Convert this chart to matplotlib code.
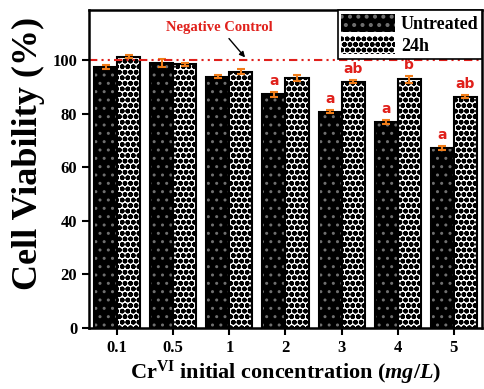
import numpy as np
import matplotlib
matplotlib.use('Agg')
from matplotlib import pyplot as plt
from matplotlib.patches import Patch

conc = ['0.1', '0.5', '1', '2', '3', '4', '5']
untreated = [97.5, 98.8, 93.8, 87.2, 80.7, 77.0, 67.3]
untreated_err = [0.8, 1.5, 0.5, 0.8, 0.5, 0.8, 0.8]
treated_24h = [101.3, 98.4, 95.7, 93.4, 91.9, 92.8, 86.3]
treated_err = [0.6, 0.5, 0.8, 1.2, 0.5, 1.2, 0.6]
letters_untreated = ['', '', '', 'a', 'a', 'a', 'a']
letters_24h = ['', '', '', '', 'ab', 'b', 'ab']

plt.rcParams['font.family'] = ['Liberation Serif', 'DejaVu Serif']
plt.rcParams['font.weight'] = 'bold'
plt.rcParams['mathtext.fontset'] = 'custom'
plt.rcParams['mathtext.rm'] = 'Liberation Serif:bold'
plt.rcParams['mathtext.bf'] = 'Liberation Serif:bold'
plt.rcParams['mathtext.it'] = 'Liberation Serif:italic:bold'

fig = plt.figure(figsize=(4.85, 3.89), dpi=100)
ax = fig.add_axes([89 / 485, 1 - 328 / 389, 393 / 485, 318 / 389])

x = np.arange(len(conc))
w = 0.41

# untreated: black with faint dots
plt.rcParams['hatch.linewidth'] = 1.0
ax.bar(x - w / 2, untreated, w, color='black', edgecolor='#707070', hatch='..', lw=0)
ax.bar(x - w / 2, untreated, w, color='none', edgecolor='black', lw=1.5)
h_unt = Patch(facecolor='black', edgecolor='#707070', hatch='..', lw=0)
# 24h: white with black crosses
plt.rcParams['hatch.linewidth'] = 1.7
ax.bar(x + w / 2, treated_24h, w, color='white', edgecolor='black', hatch='ooo', lw=0)
ax.bar(x + w / 2, treated_24h, w, color='none', edgecolor='black', lw=1.5)
h_24 = Patch(facecolor='white', edgecolor='black', hatch='ooo', lw=0)

ax.errorbar(x - w / 2, untreated, yerr=untreated_err, fmt='none', ecolor='#f07d1a',
            capsize=3, elinewidth=1.5, capthick=1.5)
ax.errorbar(x + w / 2, treated_24h, yerr=treated_err, fmt='none', ecolor='#f07d1a',
            capsize=3, elinewidth=1.5, capthick=1.5)

for i in range(len(conc)):
    if letters_untreated[i]:
        ax.text(x[i] - w / 2, untreated[i] + untreated_err[i] + 1.5, letters_untreated[i],
                ha='center', va='bottom', color='#e0201b', fontsize=10,
                family='DejaVu Sans', fontweight='bold')
    if letters_24h[i]:
        ax.text(x[i] + w / 2, treated_24h[i] + treated_err[i] + 1.5, letters_24h[i],
                ha='center', va='bottom', color='#e0201b', fontsize=10,
                family='DejaVu Sans', fontweight='bold')

ax.axhline(100, color='#e0201b', ls=(0, (4, 2, 1, 2, 1, 2)), lw=1.5)
ax.annotate('Negative Control', xy=(2.28, 101), xytext=(1.82, 112.3),
            color='#e0201b', fontsize=10.5, fontweight='bold', ha='center', va='center',
            arrowprops=dict(arrowstyle='-|>', color='black', lw=1, mutation_scale=8,
                            shrinkA=2, shrinkB=0))

ax.set_xlim(-0.5, 6.5)
ax.set_ylim(0, 118.7)
ax.set_xticks(x)
ax.set_xticklabels(conc)
ax.set_yticks([0, 20, 40, 60, 80, 100])
ax.tick_params(direction='out', width=1.5, length=5, labelsize=12)
for s in ax.spines.values():
    s.set_linewidth(1.8)

ax.set_ylabel('Cell Viability (%)', fontsize=26, fontweight='bold')
ax.yaxis.set_label_coords(-0.112, 0.55)
ax.set_xlabel(r'Cr$^{\mathbf{VI}}$ initial concentration ($\mathit{mg/L}$)',
              fontsize=16, fontweight='bold', labelpad=2)

leg = ax.legend([h_unt, h_24], ['Untreated', '24h'], loc='upper right', fontsize=13,
                frameon=True, fancybox=False, edgecolor='black', framealpha=1,
                borderaxespad=0, handlelength=3.0, handleheight=1.2,
                handletextpad=0.3, borderpad=0.2, labelspacing=0.15)
leg.get_frame().set_linewidth(1.2)

fig.savefig('out.png', dpi=100)
